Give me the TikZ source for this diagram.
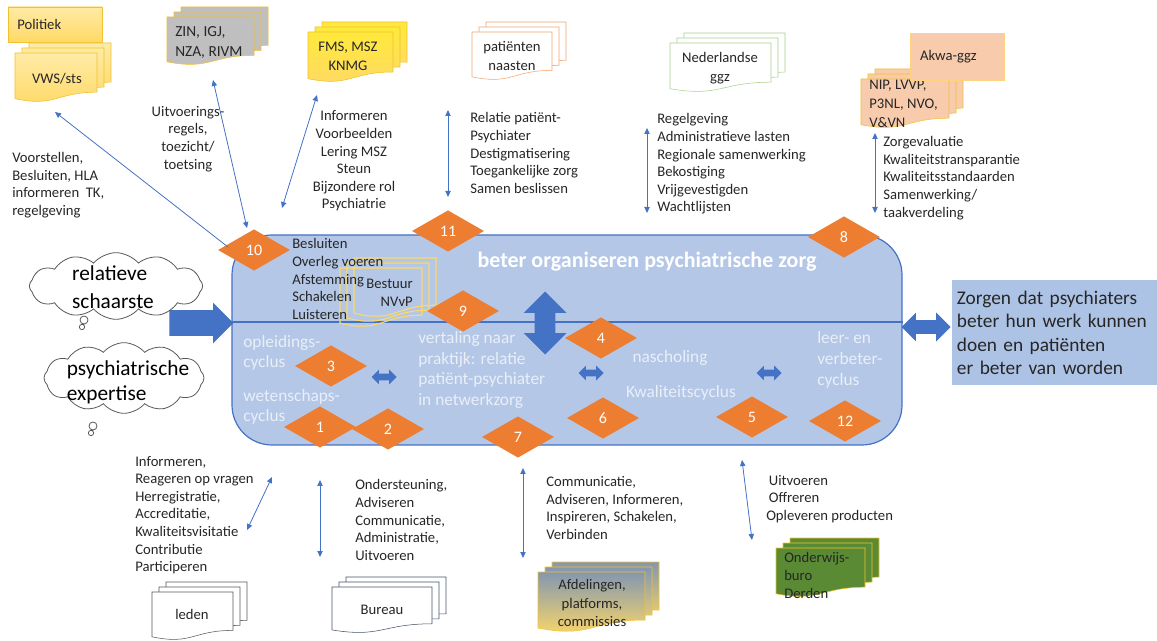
\documentclass[tikz,border=0pt]{standalone}
\usepackage{fontspec}
\setmainfont{Carlito}
\usetikzlibrary{shapes.geometric, shapes.arrows, shapes.symbols, arrows.meta}
\definecolor{oranje}{HTML}{ED7D31}
\definecolor{blauw}{HTML}{4472C4}
\definecolor{vakblauw}{HTML}{B4C7E7}
\definecolor{doelblauw}{HTML}{ADC3E6}
\definecolor{lichttekst}{HTML}{E9EFF8}
\definecolor{donker}{HTML}{262626}
\definecolor{goud}{HTML}{F2C12E}
\definecolor{lichtgoud}{HTML}{FFD27F}
\definecolor{geel}{HTML}{FFD966}
\definecolor{geellicht}{HTML}{FFEBA6}
\definecolor{felgeel}{HTML}{FFE93B}
\definecolor{grijsvlak}{HTML}{BFBFBF}
\definecolor{zalm}{HTML}{F8CBAD}
\definecolor{zalmrand}{HTML}{F0A46C}
\definecolor{groenrand}{HTML}{A9D18E}
\definecolor{groen}{HTML}{5A8A34}
\definecolor{blauwgrijs}{HTML}{8497B0}
\definecolor{leisteen}{HTML}{44546A}
\definecolor{grijs}{HTML}{595959}
\tikzset{
	nummer/.style={
		diamond,
		fill=oranje,
		text=white,
		inner sep=0pt,
		minimum width=54pt,
		minimum height=31pt,
		font=\fontsize{12}{14}\selectfont
	},
	lijst/.style={
		align=left,
		inner sep=0pt,
		text=donker,
		font=\fontsize{11}{13.2}\selectfont
	},
	doctekst/.style={
		align=center,
		inner sep=0pt,
		text=donker,
		font=\fontsize{11}{14}\selectfont
	},
	vaktekst/.style={
		align=left,
		inner sep=0pt,
		text=lichttekst,
		font=\fontsize{13}{15.5}\selectfont
	},
	pijl/.style={
		draw=blauw,
		line width=0.6pt
	},
	blok/.style={
		fill=blauw,
		draw=none,
		inner xsep=0pt
	},
	wolk/.style={
		cloud,
		cloud puffs=12,
		cloud puff arc=100,
		cloud ignores aspect,
		draw=grijs,
		fill=white,
		line width=0.6pt,
		inner sep=0pt
	},
	kader/.style={
		align=left,
		inner ysep=0pt,
		text=donker,
		font=\fontsize{11}{14}\selectfont
	}
}
% een pagina met golvende onderrand: stijl, x, y, breedte, hoogte
\newcommand{\docpage}[5]{%
	\path[draw,#1] ({#2},{#3}) -- ({(#2)+(#4)},{#3}) -- ({(#2)+(#4)},{(#3)+0.8*(#5)})
	.. controls ({(#2)+0.5*(#4)},{(#3)+0.8*(#5)}) and ({(#2)+0.5*(#4)},{(#3)+1.108*(#5)})
	.. ({#2},{(#3)+0.934*(#5)}) -- cycle;}
% drie pagina's achter elkaar
\newcommand{\docstapel}[5]{%
	\docpage{#1}{#2+14}{#3-10}{#4}{#5}
	\docpage{#1}{#2+7}{#3-5}{#4}{#5}
	\docpage{#1}{#2}{#3}{#4}{#5}}

\begin{document}
\begin{tikzpicture}[x=0.75pt, y=-0.75pt, >={Triangle[length=4.5pt,width=4pt]}]
\useasboundingbox (0,0) rectangle (1157,641);

% hoofdvak
\node[draw=blauw, fill=vakblauw, line width=0.9pt, rounded corners=30pt,
	minimum width=502.5pt, minimum height=157.5pt] (vak) at (567,340) {};
\draw[blauw, line width=0.8pt] (vak.west |- 0,322) -- (vak.east |- 0,322);
\node[text=white, font=\fontsize{16.5}{19}\selectfont\bfseries] (titel) at (647,262) {beter organiseren psychiatrische zorg};

\node[vaktekst, anchor=west] (opleiding) at (243,353) {opleidings-\\cyclus};
\node[vaktekst, anchor=west] (wetenschap) at (243,407) {wetenschaps-\\cyclus};
\node[vaktekst, anchor=west] (vertaling) at (418,370) {vertaling naar\\praktijk: relatie\\patiënt-psychiater\\in netwerkzorg};
\node[vaktekst] (nascholing) at (670,358) {nascholing};
\node[vaktekst] (kwaliteit) at (681,393) {Kwaliteitscyclus};
\node[vaktekst, anchor=west] (leer) at (817,360) {leer- en\\verbeter-\\cyclus};

% bestuur
\docstapel{draw=geel, line width=0.8pt}{340}{268}{82}{59}
\node[lijst, align=right, anchor=east] (bestuur) at (413,293) {Bestuur\\NVvP};
\node[lijst, anchor=west] (taken) at (292,279) {Besluiten\\Overleg voeren\\Afstemming\\Schakelen\\Luisteren};

% blokpijlen
\node[blok, double arrow, rotate=90, inner ysep=7.5pt, double arrow head extend=8.25pt,
	minimum height=47.25pt] (op-neer) at (545,323) {};
\node[blok, double arrow, inner ysep=2.25pt, double arrow head extend=3pt, minimum height=18.75pt] (k1) at (384,377) {};
\node[blok, double arrow, inner ysep=2.25pt, double arrow head extend=3pt, minimum height=18.75pt] (k2) at (591,373) {};
\node[blok, double arrow, inner ysep=2.25pt, double arrow head extend=3pt, minimum height=18.75pt] (k3) at (769,373) {};
\node[blok, single arrow, inner ysep=9.4pt, single arrow head extend=5.6pt, minimum height=48pt] (instroom) at (195,323) {};
\node[blok, double arrow, inner ysep=4.9pt, double arrow head extend=5.6pt, minimum height=36.75pt] (uitstroom) at (926,327) {};

% ruiten
\node[nummer] (n10) at (254,250) {10};
\node[nummer] (n11) at (448,231) {11};
\node[nummer] (n8) at (844,237) {8};
\node[nummer] (n9) at (463,311) {9};
\node[nummer] (n4) at (601,338) {4};
\node[nummer] (n3) at (331,366) {3};
\node[nummer] (n1) at (320,427) {1};
\node[nummer] (n2) at (388,429) {2};
\node[nummer] (n7) at (518,437) {7};
\node[nummer] (n6) at (603,418) {6};
\node[nummer] (n5) at (752,417) {5};
\node[nummer] (n12) at (845,421) {12};

% doel rechts
\node[fill=doelblauw, text=donker, align=left, anchor=north west, text width=149pt, inner xsep=3.5pt,
	inner ysep=0pt, minimum height=78.75pt, font=\fontsize{14.5}{17.5}\selectfont] (doel) at (952,280)
	{Zorgen dat psychiaters\\beter hun werk kunnen\\doen en patiënten\\er beter van worden};

% wolken
\node[wolk, minimum width=130pt, minimum height=50pt] (wolk1) at (116,286) {};
\node[inner sep=0pt, align=left, font=\fontsize{16}{21}\selectfont] (schaarste) at (113,287) {relatieve\\schaarste};
\draw[grijs, fill=white, line width=0.6pt] (84,320) circle (3pt) (82,327) circle (2pt);
\node[wolk, minimum width=120pt, minimum height=53pt] (wolk2) at (124,378) {};
\node[inner sep=0pt, align=left, font=\fontsize{16}{19}\selectfont] (expertise) at (128,382) {psychiatrische\\expertise};
\draw[grijs, fill=white, line width=0.6pt] (93,426) circle (3pt) (91,433) circle (2pt);

% boven
\node[kader, draw=goud, top color=geellicht, bottom color=geel, text width=56.5pt, inner xsep=7pt,
	minimum height=26.25pt] (politiek) at (55,24.5) {Politiek};
\docstapel{draw=goud, top color=geellicht, bottom color=geel}{15}{53}{82}{49}
\node[doctekst] (vws) at (57,79) {VWS/sts};
\docstapel{draw=goud, fill=grijsvlak}{167}{17}{87}{48}
\node[doctekst, align=left, anchor=west, font=\fontsize{11.5}{15}\selectfont] (zin) at (175,43) {ZIN, IGJ,\\NZA, RIVM};
\docstapel{draw=goud, top color=felgeel, bottom color=geel}{308}{32}{85}{50}
\node[doctekst] (fms) at (348,56) {FMS, MSZ\\KNMG};
\docstapel{draw=zalmrand, fill=white}{472}{32}{80}{48}
\node[doctekst] (patienten) at (512,56) {patiënten\\naasten};
\docstapel{draw=groenrand, fill=white}{670}{43}{101}{49}
\node[doctekst] (ggz) at (720,68) {Nederlandse\\ggz};
\docstapel{draw=goud, fill=zalm}{861}{79}{88}{49}
\node[doctekst, align=left, anchor=west] (nip) at (869,104) {NIP, LVVP,\\P3NL, NVO,\\V\&VN};
\node[kader, draw=lichtgoud, fill=zalm, text width=55.5pt, inner xsep=7.5pt,
	minimum height=35.25pt] (akwa) at (957,56.5) {Akwa-ggz};

% onder
\docstapel{draw=grijs, fill=white}{152}{592}{81}{48}
\node[doctekst] (leden) at (192,614) {leden};
\docstapel{draw=leisteen, fill=white}{332}{587}{100}{46}
\node[doctekst] (bureau) at (382,610) {Bureau};
\docstapel{draw=goud, top color=blauwgrijs, bottom color=geel}{538}{572}{107}{60}
\node[doctekst] (afdelingen) at (592,603) {Afdelingen,\\platforms,\\commissies};
\docstapel{draw=goud, fill=groen}{776}{548}{89}{49}
\node[doctekst, align=left, anchor=west, font=\fontsize{11}{13.5}\selectfont] (onderwijs) at (784,575) {Onderwijs-\\buro\\Derden};

% teksten bij de pijlen
\node[lijst, anchor=west] (t-politiek) at (12,185) {Voorstellen,\\Besluiten, HLA\\informeren\ \ TK,\\regelgeving};
\node[lijst, align=center] (t-zin) at (188,139) {Uitvoerings-\\regels,\\toezicht/\\toetsing};
\node[lijst, align=center] (t-fms) at (354,161) {Informeren\\Voorbeelden\\Lering MSZ\\Steun\\Bijzondere rol\\Psychiatrie};
\node[lijst, anchor=west] (t-patienten) at (470,153) {Relatie patiënt-\\Psychiater\\Destigmatisering\\Toegankelijke zorg\\Samen beslissen};
\node[lijst, anchor=west] (t-ggz) at (657,164) {Regelgeving\\Administratieve lasten\\Regionale samenwerking\\Bekostiging\\Vrijgevestigden\\Wachtlijsten};
\node[lijst, anchor=west] (t-nip) at (883,178) {Zorgevaluatie\\Kwaliteitstransparantie\\Kwaliteitsstandaarden\\Samenwerking/\\taakverdeling};
\node[lijst, anchor=west] (t-leden) at (135,515) {Informeren,\\Reageren op vragen\\Herregistratie,\\Accreditatie,\\Kwaliteitsvisitatie\\Contributie\\Participeren};
\node[lijst, anchor=west] (t-bureau) at (355,520) {Ondersteuning,\\Adviseren\\Communicatie,\\Administratie,\\Uitvoeren};
\node[lijst, anchor=west] (t-afdelingen) at (546,508) {Communicatie,\\Adviseren, Informeren,\\Inspireren, Schakelen,\\Verbinden};
\node[lijst, anchor=west] (t-onderwijs) at (766,499) {\hspace{2pt}Uitvoeren\\\hspace{2pt}Offreren\\Opleveren producten};

% dunne pijlen
\coordinate (vws-a) at (228,247);  \coordinate (vws-b) at (55,112);
\coordinate (zin-a) at (247,228);  \coordinate (zin-b) at (213,80);
\coordinate (fms-a) at (282,208);  \coordinate (fms-b) at (317,95);
\coordinate (pat-a) at (448,197);  \coordinate (pat-b) at (448,110);
\coordinate (ggz-a) at (647,213);  \coordinate (ggz-b) at (647,128);
\coordinate (nip-a) at (875,213);  \coordinate (nip-b) at (875,133);
\coordinate (led-a) at (272,477);  \coordinate (led-b) at (247,530);
\coordinate (bur-a) at (320,480);  \coordinate (bur-b) at (320,557);
\coordinate (afd-a) at (523,468);  \coordinate (afd-b) at (523,558);
\coordinate (ond-a) at (742,460);  \coordinate (ond-b) at (752,540);
\draw[pijl, ->] (vws-a) -- (vws-b);
\draw[pijl, <->] (zin-a) -- (zin-b);
\draw[pijl, <->] (fms-a) -- (fms-b);
\draw[pijl, <->] (pat-a) -- (pat-b);
\draw[pijl, <->] (ggz-a) -- (ggz-b);
\draw[pijl, <->] (nip-a) -- (nip-b);
\draw[pijl, <->] (led-a) -- (led-b);
\draw[pijl, <->] (bur-a) -- (bur-b);
\draw[pijl, <->] (afd-a) -- (afd-b);
\draw[pijl, <->] (ond-a) -- (ond-b);
\end{tikzpicture}
\end{document}
